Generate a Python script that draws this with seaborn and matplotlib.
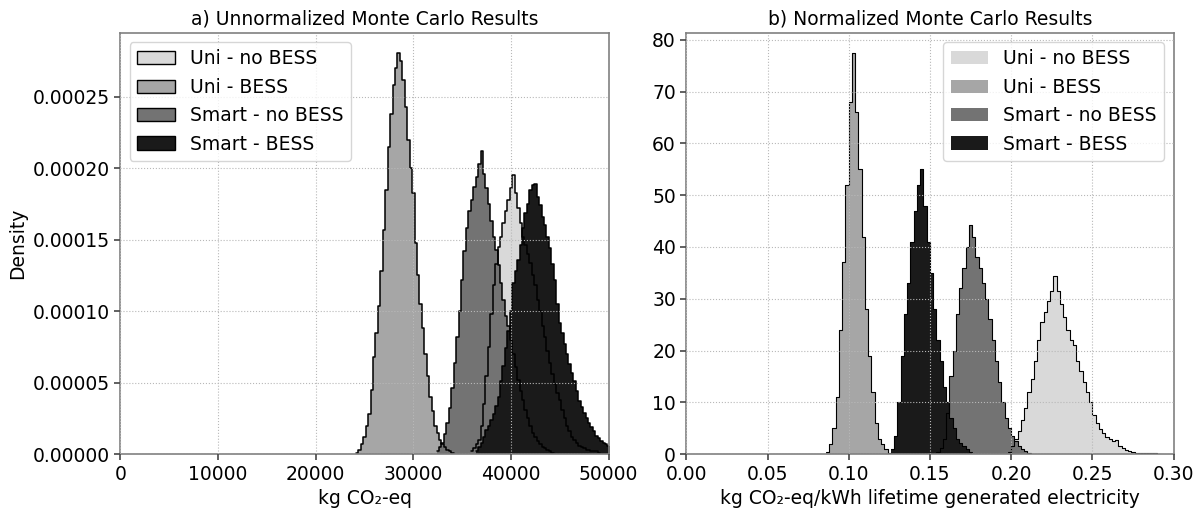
import numpy as np
import pandas as pd
import matplotlib
matplotlib.use('Agg')
import matplotlib.pyplot as plt
import seaborn as sns
from matplotlib.patches import Patch
from matplotlib.ticker import FormatStrFormatter

sns.set_theme(style='ticks')
plt.rcParams['font.family'] = ['DejaVu Sans']
plt.rcParams['font.size'] = 13.5
plt.rcParams['text.color'] = 'black'
plt.rcParams['axes.labelcolor'] = 'black'

labels = ['Uni - no BESS', 'Uni - BESS', 'Smart - no BESS', 'Smart - BESS']
colors = ['#d9d9d9', '#a6a6a6', '#737373', '#1a1a1a']

# a) unnormalized, kg CO2-eq, bins of 250 (first bin centre + densities)
a_width = 250
a_start = [36000, 24250, 32500, 36500]
a_uni_nobess = [0.000002, 0.000004, 0.000007, 0.00001, 0.00002, 0.000035, 0.000055,
                0.000075, 0.000098, 0.000118, 0.000133, 0.000145, 0.000152, 0.000162,
                0.00017, 0.000178, 0.000186, 0.000195, 0.000183, 0.000172, 0.000162,
                0.000152, 0.000146, 0.00014, 0.000134, 0.000125, 0.000118, 0.000108,
                0.0001, 0.00009, 0.000082, 0.000072, 0.000064, 0.000056, 0.000049,
                0.000043, 0.000038, 0.000031, 0.000025, 0.00002, 0.000016, 0.000012,
                0.00001, 0.000008, 0.000006, 0.000005, 0.000004, 0.000003, 0.000003,
                0.000002, 0.000002, 0.000002, 0.000001]
a_uni_bess = [0.000001, 0.000003, 0.000007, 0.000012, 0.00002, 0.000028, 0.000045,
              0.000068, 0.000085, 0.000104, 0.000128, 0.000157, 0.000185, 0.000215,
              0.000238, 0.000258, 0.00027, 0.000281, 0.000275, 0.000262, 0.000243,
              0.00022, 0.0002, 0.000183, 0.000148, 0.000125, 0.000105, 0.000088,
              0.00007, 0.000055, 0.00004, 0.00003, 0.00002, 0.000015, 0.00001,
              0.000007, 0.000005, 0.000003, 0.000002, 0.000001]
a_smart_nobess = [0.000002, 0.000005, 0.000008, 0.000014, 0.000022, 0.000032, 0.000046,
                  0.000064, 0.000082, 0.0001, 0.000122, 0.000142, 0.000158, 0.00017,
                  0.000178, 0.000187, 0.000194, 0.000203, 0.000212, 0.000196, 0.000186,
                  0.000175, 0.000163, 0.000152, 0.000143, 0.000132, 0.00012, 0.000108,
                  0.000097, 0.00009, 0.00008, 0.00007, 0.000061, 0.000052, 0.000044,
                  0.000038, 0.000031, 0.000025, 0.00002, 0.000015, 0.000012, 0.000009,
                  0.000007, 0.000005, 0.000004, 0.000003, 0.000002, 0.000001]
a_smart_bess = [0.000002, 0.000005, 0.000008, 0.000012, 0.000017, 0.00002, 0.000024,
                0.000028, 0.000034, 0.00004, 0.000051, 0.000062, 0.000074, 0.000086,
                0.0001, 0.00012, 0.000128, 0.000136, 0.000146, 0.000158, 0.000169,
                0.000175, 0.000185, 0.000188, 0.000189, 0.00018, 0.000174, 0.000166,
                0.00016, 0.000152, 0.000144, 0.000133, 0.000122, 0.000105, 0.000092,
                0.000085, 0.000077, 0.00007, 0.000063, 0.000057, 0.000051, 0.000044,
                0.000037, 0.000033, 0.000029, 0.000025, 0.000022, 0.000019, 0.000016,
                0.000013, 0.000011, 0.000009, 0.000008, 0.000007, 0.000006, 0.000005]

# b) normalized, kg CO2-eq/kWh, bins of 0.002
b_width = 0.002
b_start = [0.199, 0.087, 0.155, 0.127]
b_uni_nobess = [0.5, 1.5, 3, 4.5, 6.5, 9, 12, 14.5, 18, 22, 25.5, 27.5, 29.5, 31.5,
                34.3, 31.5, 29, 26.5, 24, 22, 21, 18, 16, 14, 12, 10, 7.5, 6, 4.8, 4,
                3.4, 3, 2.6, 2.8, 1.6, 1.1, 0.8, 0.6, 0.4, 0.3, 0.3, 0.2, 0.2, 0.2,
                0.2, 0.2, 0.1]
b_uni_bess = [0.5, 2, 5, 11, 24, 37, 52, 68, 77.5, 66, 55, 42, 28, 19, 12, 6, 3, 2, 1, 0.3]
b_smart_nobess = [0.5, 1.2, 3, 8, 15, 20, 27, 32, 36, 40, 44.3, 42, 38, 36, 33, 30, 26,
                  22, 18, 14, 10, 7, 5, 3.5, 2.5, 1.5, 1, 0.6, 0.3]
b_smart_bess = [1, 3.5, 10, 19, 27, 33, 41, 47, 52, 55, 48, 41, 35, 28, 22, 18, 13, 10,
                7, 5, 3, 2.2, 1.5, 1, 0.5]

a_series = [a_uni_nobess, a_uni_bess, a_smart_nobess, a_smart_bess]
b_series = [b_uni_nobess, b_uni_bess, b_smart_nobess, b_smart_bess]


def draw_panel(ax, series, starts, width, lw):
    frames = []
    for vals, start in zip(series, starts):
        centers = start + width * np.arange(len(vals))
        rng = (centers[0] - width / 2, centers[-1] + width / 2)
        frames.append((pd.DataFrame({'x': centers, 'w': vals}), rng))
    # fills first, in legend order, then all outlines on top
    for (d, rng), c in zip(frames, colors):
        sns.histplot(data=d, x='x', weights='w', binwidth=width, binrange=rng,
                     stat='count', element='step', fill=True, color=c, alpha=1,
                     linewidth=0, ax=ax)
    for d, rng in frames:
        sns.histplot(data=d, x='x', weights='w', binwidth=width, binrange=rng,
                     stat='count', element='step', fill=False, color='black',
                     linewidth=lw, ax=ax)


fig = plt.figure(figsize=(12.03, 5.08), dpi=100)
ax1 = fig.add_axes([0.100, 0.106, 0.406, 0.830])
ax2 = fig.add_axes([0.5705, 0.106, 0.405, 0.830])

draw_panel(ax1, a_series, a_start, a_width, 1.1)
draw_panel(ax2, b_series, b_start, b_width, 0.8)

ax1.set_xlim(0, 50000)
ax1.set_ylim(0, 0.000295)
ax1.yaxis.set_major_formatter(FormatStrFormatter('%.5f'))
ax1.set_title('a) Unnormalized Monte Carlo Results', fontsize=13.5)
ax1.set_xlabel('kg CO\u2082-eq', fontsize=13.5)
ax1.set_ylabel('Density', fontsize=13.5)

ax2.set_xlim(0, 0.30)
ax2.set_ylim(0, 81.4)
ax2.xaxis.set_major_formatter(FormatStrFormatter('%.2f'))
ax2.set_title('b) Normalized Monte Carlo Results', fontsize=13.5)
ax2.set_xlabel('kg CO\u2082-eq/kWh lifetime generated electricity', fontsize=13.5)
ax2.set_ylabel('')

for ax in (ax1, ax2):
    ax.grid(True, linestyle=':', color='0.72', linewidth=0.8)
    ax.set_axisbelow(False)
    for s in ax.spines.values():
        s.set_color('0.5')
        s.set_linewidth(1.2)
    ax.tick_params(labelsize=13.5, labelcolor='black', length=4, color='0.3')

h1 = [Patch(facecolor=c, edgecolor='black', label=l) for c, l in zip(colors, labels)]
h2 = [Patch(facecolor=c, edgecolor='none', label=l) for c, l in zip(colors, labels)]
ax1.legend(handles=h1, loc='upper left', fontsize=13.5)
ax2.legend(handles=h2, loc='upper right', fontsize=13.5)

plt.savefig('out.png', dpi=100)
